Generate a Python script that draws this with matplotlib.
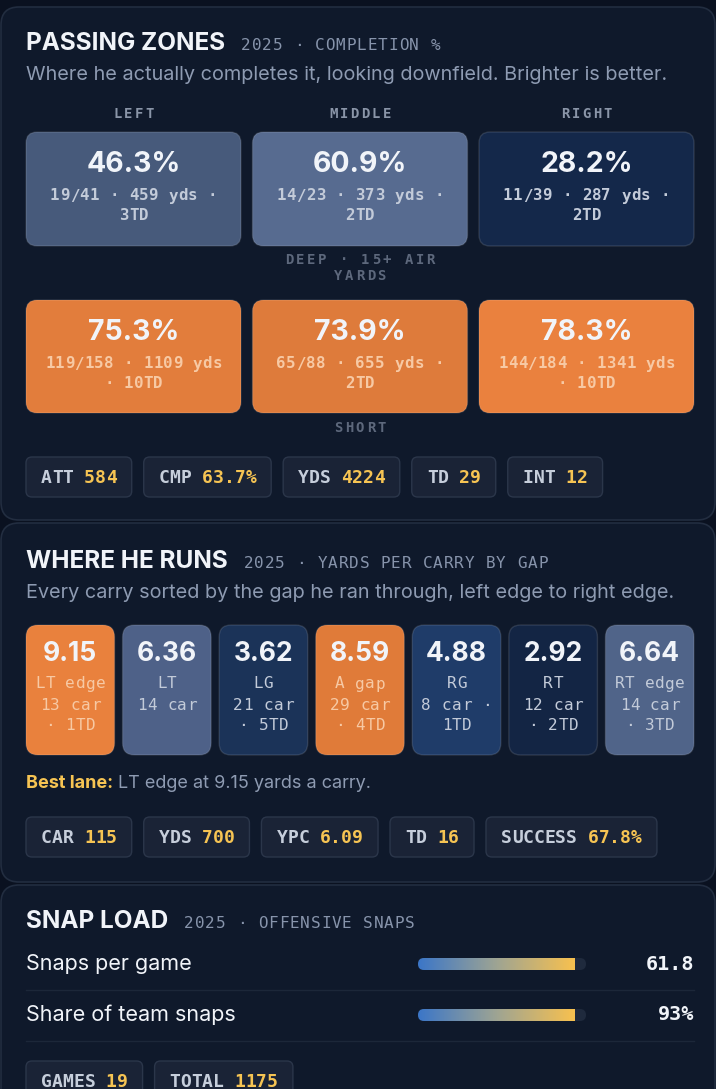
import textwrap
import numpy as np
import matplotlib.pyplot as plt
from matplotlib.patches import FancyBboxPatch
from matplotlib.colors import LinearSegmentedColormap

SANS = ['Inter', 'DejaVu Sans']
MONO = ['DejaVu Sans Mono']

# ---- data ----
pass_cols = ['LEFT', 'MIDDLE', 'RIGHT']
deep_pct = [46.3, 60.9, 28.2]
deep_cmp = ['19/41', '14/23', '11/39']
deep_yds = [459, 373, 287]
deep_td = [3, 2, 2]
short_pct = [75.3, 73.9, 78.3]
short_cmp = ['119/158', '65/88', '144/184']
short_yds = [1109, 655, 1341]
short_td = [10, 2, 10]
pass_stats = ['ATT', 'CMP', 'YDS', 'TD', 'INT']
pass_vals = ['584', '63.7%', '4224', '29', '12']

gaps = ['LT edge', 'LT', 'LG', 'A gap', 'RG', 'RT', 'RT edge']
gap_ypc = [9.15, 6.36, 3.62, 8.59, 4.88, 2.92, 6.64]
gap_car = [13, 14, 21, 29, 8, 12, 14]
gap_td = [1, 0, 5, 4, 1, 2, 3]
run_stats = ['CAR', 'YDS', 'YPC', 'TD', 'SUCCESS']
run_vals = ['115', '700', '6.09', '16', '67.8%']

snap_rows = ['Snaps per game', 'Share of team snaps']
snap_vals = ['61.8', '93%']
snap_share = [0.93, 0.93]
snap_stats = ['GAMES', 'TOTAL']
snap_stat_vals = ['19', '1175']

# ---- colours ----
BG = '#0a1120'
PANEL = '#0f192b'
PANEL_EDGE = '#222d40'
WHITE = '#f1f4f9'
SUB = '#8794ab'
DIM = '#5d687c'
DESC = '#8e9bb2'
GOLD = '#f6c453'
CHIP = '#1a2336'
CHIP_EDGE = '#2b364a'

pass_cmap = LinearSegmentedColormap.from_list('pass', [
    (0.0, '#14284a'), (0.36, '#475a7b'), (0.66, '#576b90'),
    (0.9, '#dc7a3a'), (1.0, '#ea813e')])
run_cmap = LinearSegmentedColormap.from_list('run', [
    (0.0, '#132544'), (0.11, '#1b3358'), (0.32, '#1f3c6a'), (0.55, '#4e6188'),
    (0.6, '#506489'), (0.91, '#e07b39'), (1.0, '#e9813d')])
bar_cmap = LinearSegmentedColormap.from_list('bar', ['#3b76c8', '#9ea493', '#f8c14f'])

fig = plt.figure(figsize=(7.16, 10.89), dpi=100)
fig.patch.set_facecolor(BG)
ax = fig.add_axes([0, 0, 1, 1])
ax.set_xlim(0, 716)
ax.set_ylim(1089, 0)
ax.axis('off')
renderer = fig.canvas.get_renderer()


def rbox(x, y, w, h, r, fc, ec='none', lw=1.0, z=1):
    p = FancyBboxPatch((x, y), w, h, boxstyle=f'round,pad=0,rounding_size={r}',
                       fc=fc, ec=ec, lw=lw, zorder=z)
    ax.add_patch(p)
    return p


def right_of(t):
    return t.get_window_extent(renderer).x1


def mono(x, y, s, size, color, spacing=0.0, ha='left', bold=False, va='center'):
    # monospace text with letter spacing, one glyph at a time
    cw = 0.602 * size * 100 / 72
    adv = cw + spacing
    total = len(s) * adv - spacing
    x0 = {'left': x, 'center': x - total / 2, 'right': x - total}[ha]
    for i, ch in enumerate(s):
        if ch != ' ':
            ax.text(x0 + i * adv + cw / 2, y, ch, fontsize=size, color=color,
                    family=MONO, fontweight='bold' if bold else 'normal',
                    ha='center', va=va, zorder=4)
    return x0 + total


def header(y, title, sub, desc=None):
    t = ax.text(26, y, title, fontsize=17.5, fontweight='bold', color=WHITE,
                family=SANS, va='baseline', zorder=3)
    mono(right_of(t) + 16, y, sub, 11.5, SUB, spacing=0.9, va='baseline')
    if desc:
        ax.text(26, y + 25, desc, fontsize=14.3, color=DESC, family=SANS,
                va='center', zorder=3)


def chips(y, labels, values, x0=26):
    x = x0
    for lab, val in zip(labels, values):
        e1 = mono(x + 15, y + 21, lab, 13, '#c6cedb', bold=True)
        e2 = mono(e1 + 10.5, y + 21, val, 13, GOLD, bold=True)
        w = e2 - x + 15
        rbox(x, y, w, 40, 6, CHIP, CHIP_EDGE, 1.0, z=2)
        x += w + 12


# ---- panels ----
rbox(1, 7, 714, 513, 18, PANEL, PANEL_EDGE, 1.2)
rbox(1, 523, 714, 359, 18, PANEL, PANEL_EDGE, 1.2)
rbox(1, 885, 714, 260, 18, PANEL, PANEL_EDGE, 1.2)

# ---- passing zones ----
header(50, 'PASSING ZONES', '2025 · COMPLETION %',
       'Where he actually completes it, looking downfield. Brighter is better.')

tw, tgap = 215, 11.5
lo = min(deep_pct + short_pct)
hi = max(deep_pct + short_pct)
rows = [(132, 114, deep_pct, deep_cmp, deep_yds, deep_td),
        (300, 113, short_pct, short_cmp, short_yds, short_td)]
for i, col in enumerate(pass_cols):
    cx = 26 + i * (tw + tgap) + tw / 2
    mono(cx, 114, col, 10, '#8a95a8', spacing=2.4, ha='center', bold=True)
    for ty, th, pct, cmp_, yds, td in rows:
        v = (pct[i] - lo) / (hi - lo)
        rbox(cx - tw / 2, ty, tw, th, 11, pass_cmap(v), (1, 1, 1, 0.12), 1.0, z=2)
        ax.text(cx, ty + 32, f'{pct[i]:.1f}%', fontsize=20.5, fontweight='bold',
                color=WHITE, family=SANS, ha='center', va='center', zorder=3)
        sub_col = '#f7c9a4' if v > 0.8 else '#c3cbd9'
        lines = textwrap.wrap(f'{cmp_[i]} · {yds[i]} yds · {td[i]}TD', 18)
        for k, line in enumerate(lines):
            mono(cx, ty + 64 + k * 20, line, 11.3, sub_col, spacing=0.4,
                 ha='center', bold=True)

mono(360, 260, 'DEEP · 15+ AIR', 10, DIM, spacing=2.5, ha='center', bold=True)
mono(360, 276, 'YARDS', 10, DIM, spacing=2.5, ha='center', bold=True)
mono(360, 428, 'SHORT', 10, DIM, spacing=2.5, ha='center', bold=True)

chips(457, pass_stats, pass_vals)

# ---- where he runs ----
header(568, 'WHERE HE RUNS', '2025 · YARDS PER CARRY BY GAP',
       'Every carry sorted by the gap he ran through, left edge to right edge.')

n = len(gaps)
gw = (668 - 8 * (n - 1)) / n
lo, hi = min(gap_ypc), max(gap_ypc)
for i, g in enumerate(gaps):
    x = 26 + i * (gw + 8)
    cx = x + gw / 2
    v = (gap_ypc[i] - lo) / (hi - lo)
    rbox(x, 625, gw, 130, 12, run_cmap(v), (1, 1, 1, 0.12), 1.0, z=2)
    ax.text(cx, 654, f'{gap_ypc[i]:.2f}', fontsize=19, fontweight='bold',
            color=WHITE, family=SANS, ha='center', va='center', zorder=3)
    sub_col = '#f7c9a4' if v > 0.8 else '#c3cbd9'
    detail = f'{gap_car[i]} car' + (f' · {gap_td[i]}TD' if gap_td[i] else '')
    lines = [g] + textwrap.wrap(detail, 7)
    for k, line in enumerate(lines):
        mono(cx, 684 + k * 21, line, 11.5, sub_col, spacing=0.5, ha='center')

best = int(np.argmax(gap_ypc))
t = ax.text(26, 783, 'Best lane:', fontsize=13, fontweight='bold', color=GOLD,
            family=SANS, va='center', zorder=3)
ax.text(right_of(t) + 5, 783, f'{gaps[best]} at {gap_ypc[best]:.2f} yards a carry.',
        fontsize=13, color=DESC, family=SANS, va='center', zorder=3)

chips(817, run_stats, run_vals)

# ---- snap load ----
header(928, 'SNAP LOAD', '2025 · OFFENSIVE SNAPS')

bx, bw, bh = 418, 168, 12
grad = np.linspace(0, 1, 256).reshape(1, -1)
for k, (lab, val, share) in enumerate(zip(snap_rows, snap_vals, snap_share)):
    cy = 964 + k * 51
    ax.text(26, cy, lab, fontsize=15.5, color=WHITE, family=SANS, va='center', zorder=3)
    track = rbox(bx, cy - bh / 2, bw, bh, 6, '#1f2a3d', z=2)
    fill_w = bw * share
    im = ax.imshow(grad, cmap=bar_cmap, aspect='auto', zorder=3,
                   extent=[bx, bx + fill_w, cy + bh / 2, cy - bh / 2])
    im.set_clip_path(track)
    ax.text(694, cy, val, fontsize=14.5, fontweight='bold', color=WHITE,
            family=MONO, ha='right', va='center', zorder=3)
    ax.plot([26, 694], [cy + 25.5, cy + 25.5], color='#1c2739', lw=1, zorder=2)

ax.set_xlim(0, 716)
ax.set_ylim(1089, 0)

chips(1061, snap_stats, snap_stat_vals)

fig.savefig('out.png', dpi=100, facecolor=BG)
